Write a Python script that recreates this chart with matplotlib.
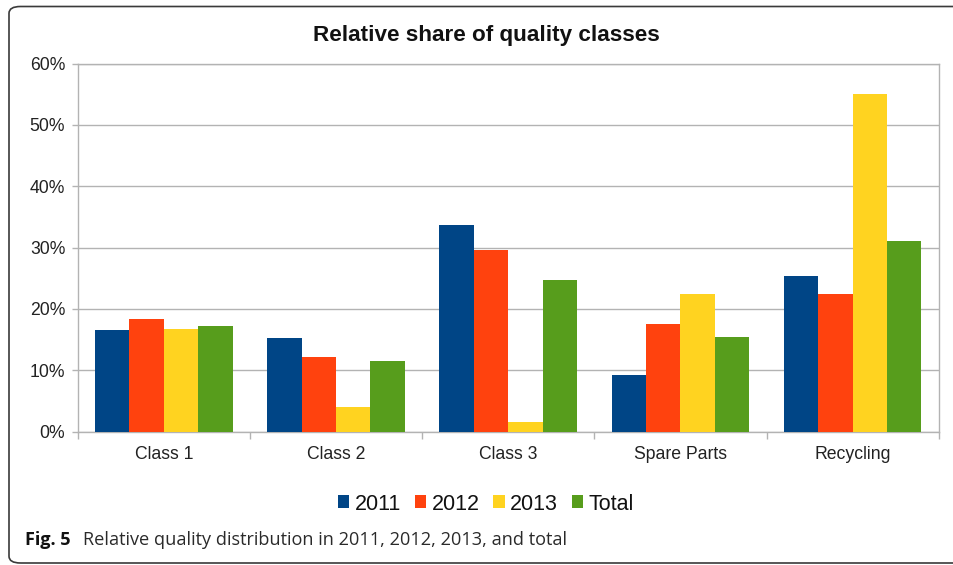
import matplotlib
matplotlib.use("Agg")
import matplotlib.pyplot as plt
import numpy as np
from matplotlib.patches import FancyBboxPatch
from matplotlib.ticker import FuncFormatter

categories = ["Class 1", "Class 2", "Class 3", "Spare Parts", "Recycling"]
series_names = ["2011", "2012", "2013", "Total"]
v2011 = [16.6, 15.2, 33.7, 9.3, 25.4]
v2012 = [18.3, 12.1, 29.6, 17.5, 22.4]
v2013 = [16.7, 4.0, 1.6, 22.5, 55.0]
vtotal = [17.3, 11.5, 24.8, 15.4, 31.0]
colors = ["#004586", "#ff420e", "#ffd320", "#579d1c"]
yticks = [0, 10, 20, 30, 40, 50, 60]
title = "Relative share of quality classes"
caption_bold = "Fig. 5"
caption_text = "Relative quality distribution in 2011, 2012, 2013, and total"

W, H = 954, 565
fig = plt.figure(figsize=(W / 100, H / 100), dpi=100)
fig.patch.set_facecolor("white")

# outer rounded border
border = FancyBboxPatch((9 / W, 1 - 563 / H), (W + 20 - 9) / W, (563 - 6.5) / H,
                        boxstyle="round,pad=0,rounding_size=0.012",
                        transform=fig.transFigure, facecolor="none",
                        edgecolor="#3a3a3a", linewidth=1.2, clip_on=False)
fig.patches.append(border)

ax = fig.add_axes([77.7 / W, 1 - 431.7 / H, (938.7 - 77.7) / W, (431.7 - 63.5) / H])

x = np.arange(len(categories))
width = 0.2
all_vals = [v2011, v2012, v2013, vtotal]
for i, (name, vals, c) in enumerate(zip(series_names, all_vals, colors)):
    ax.bar(x + (i - 1.5) * width, vals, width, color=c, label=name, zorder=3)

ax.set_xlim(-0.5, len(categories) - 0.5)
ax.set_ylim(0, 60)
ax.set_yticks(yticks)
ax.yaxis.set_major_formatter(FuncFormatter(lambda v, p: f"{int(v)}%"))
ax.grid(axis="y", color="#b3b3b3", linewidth=1.0, zorder=0)

ax.set_xticks(x)
ax.set_xticklabels(categories)
ax.set_xticks(np.arange(-0.5, len(categories)), minor=True)
ax.tick_params(axis="x", which="major", length=0, pad=10, labelsize=12.7, labelcolor="#222222")
ax.tick_params(axis="x", which="minor", length=5, color="#b3b3b3", width=1.0)
ax.tick_params(axis="y", length=4, color="#b3b3b3", width=1.0, pad=5, labelsize=12.7, labelcolor="#222222")

for s in ax.spines.values():
    s.set_color("#b3b3b3")
    s.set_linewidth(1.0)

for lab in ax.get_xticklabels() + ax.get_yticklabels():
    lab.set_fontfamily("Liberation Sans")

fig.text(486 / W, 1 - 35 / H, title, ha="center", va="center",
         fontsize=16.2, fontweight="bold", family="Liberation Sans", color="#111111")

leg = fig.legend(loc="center", bbox_to_anchor=(486 / W, 1 - 504 / H), ncol=4,
                 frameon=False, prop={"family": "Liberation Sans", "size": 15.5},
                 handlelength=0.52, handleheight=0.55, handletextpad=0.25,
                 columnspacing=0.65)
for t in leg.get_texts():
    t.set_color("#111111")

fig.text(25 / W, 1 - 540 / H, caption_bold, ha="left", va="center",
         fontsize=13, fontweight="bold", family="Open Sans", color="#111111")
fig.text(83 / W, 1 - 540 / H, caption_text, ha="left", va="center",
         fontsize=13.1, family="Open Sans", color="#2a2a2a")

fig.savefig("out.png", dpi=100, facecolor="white")
